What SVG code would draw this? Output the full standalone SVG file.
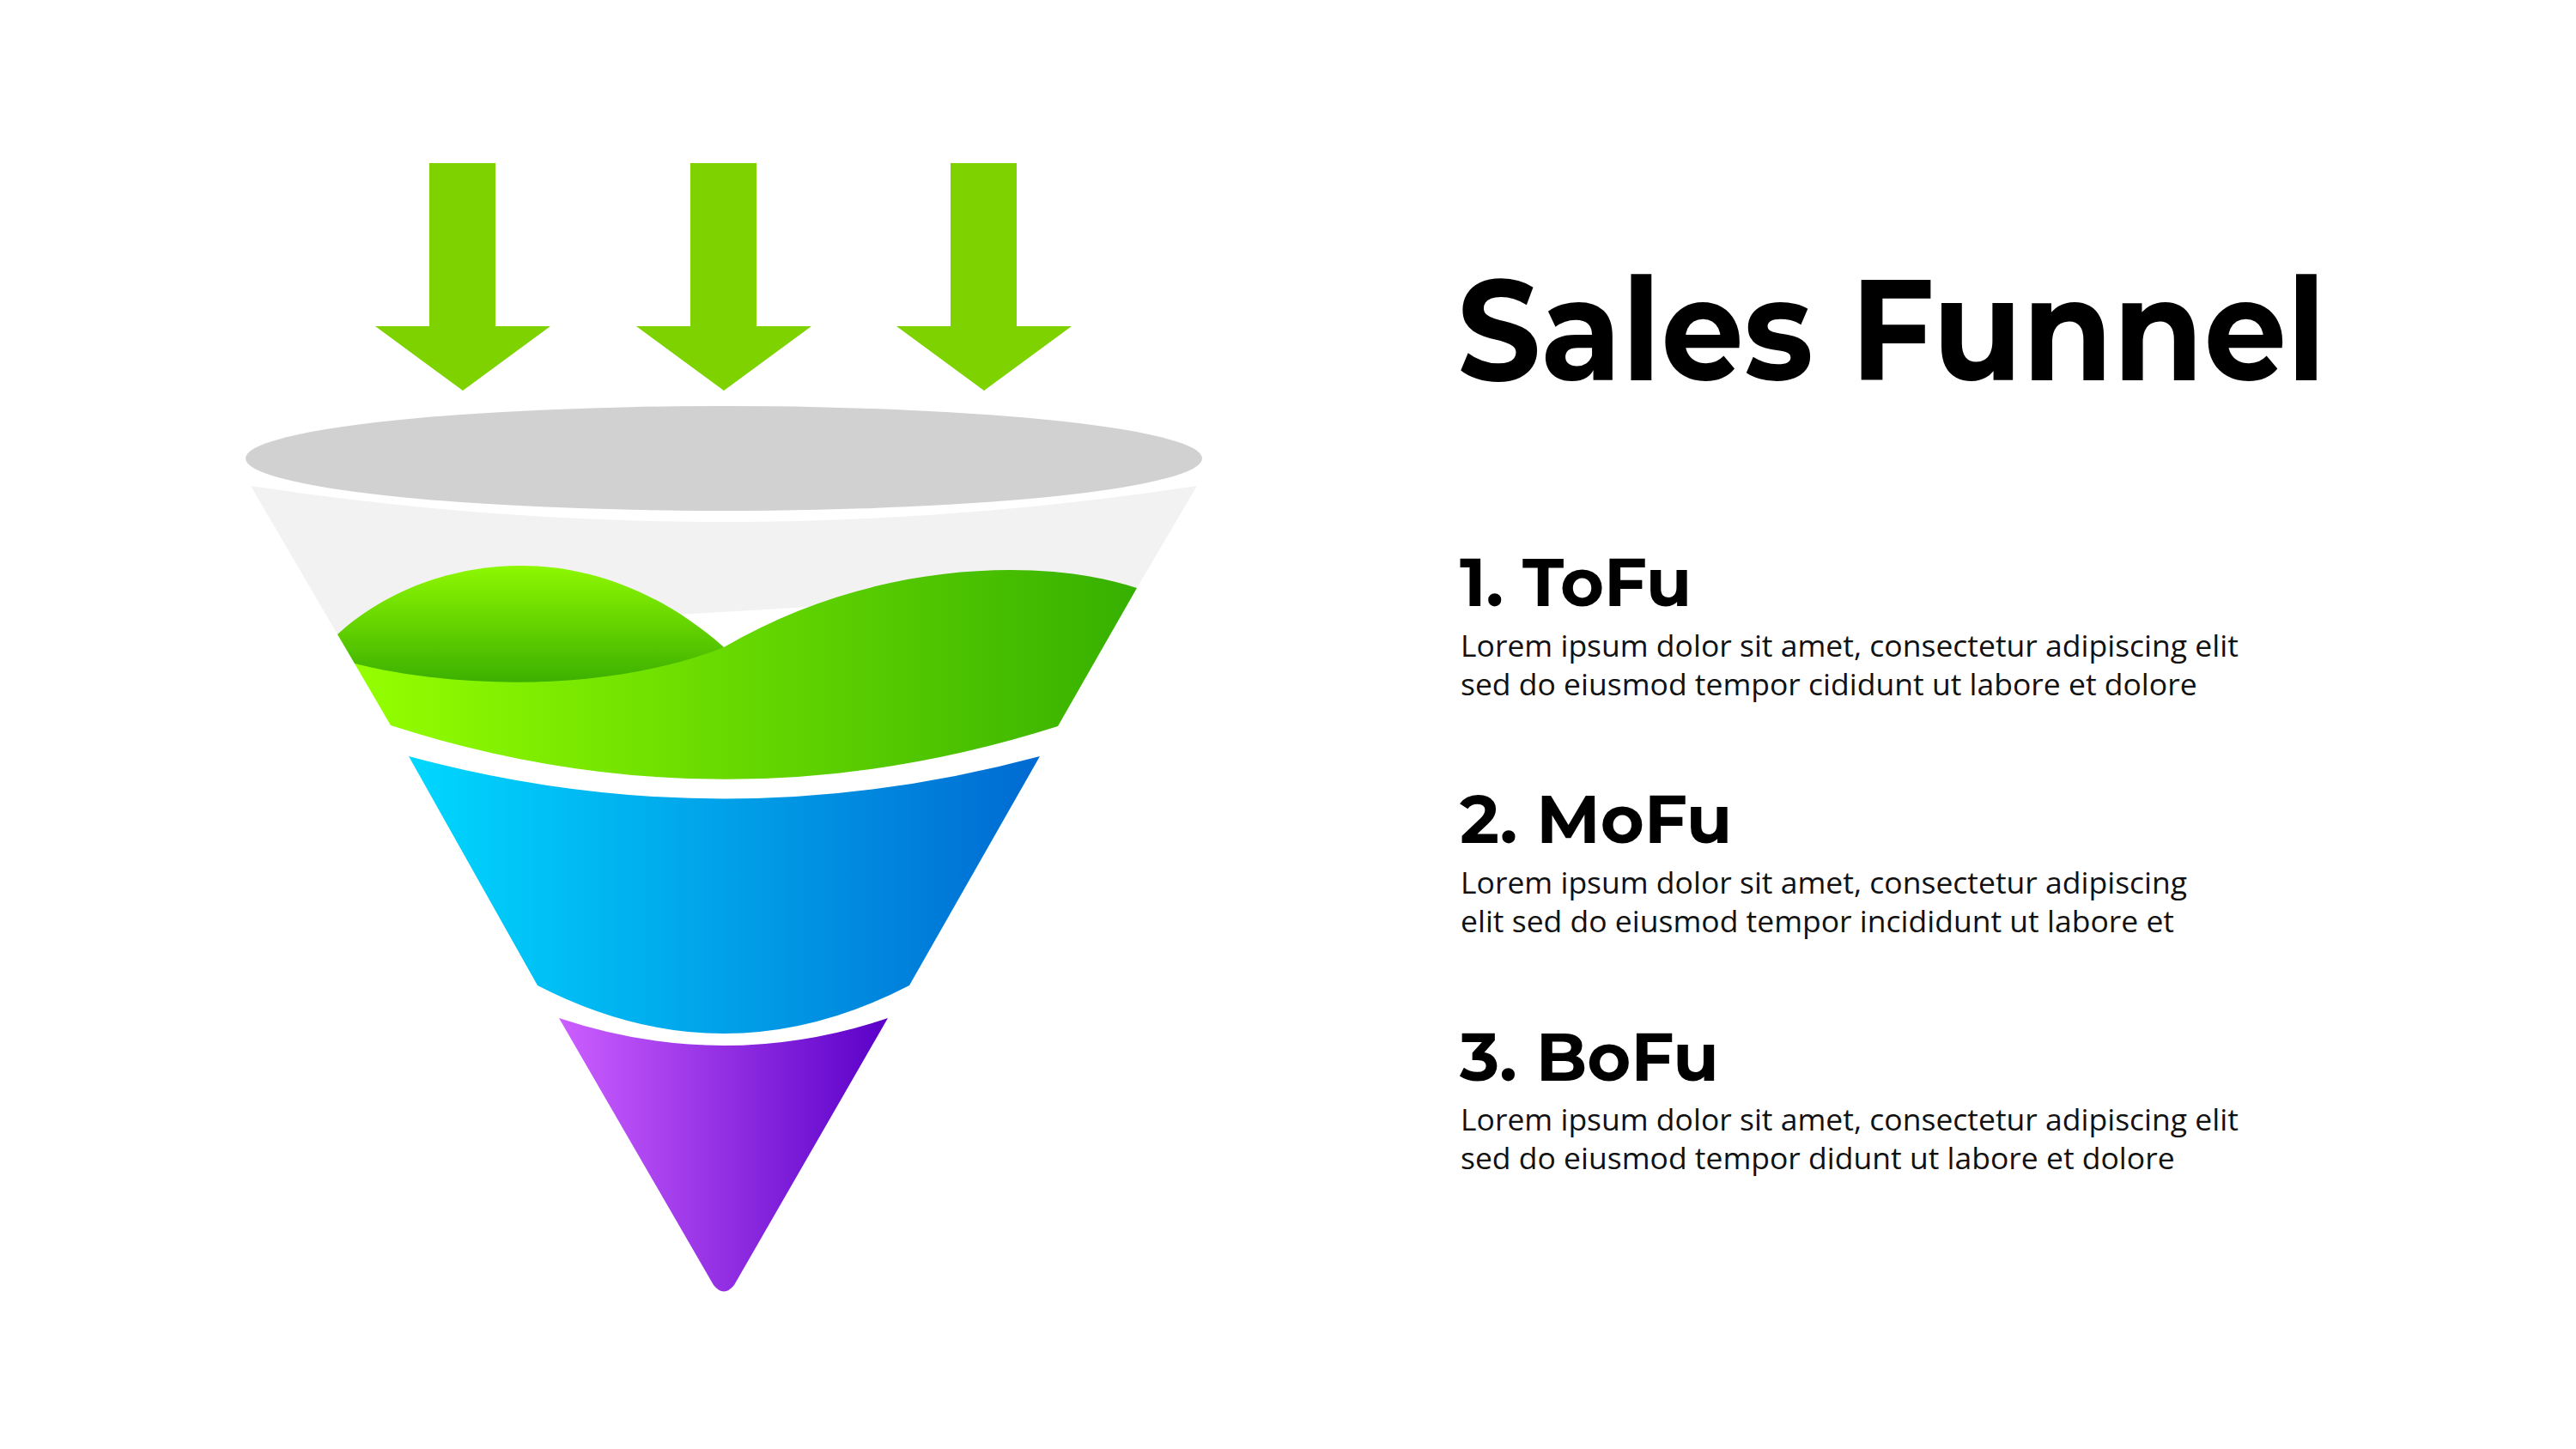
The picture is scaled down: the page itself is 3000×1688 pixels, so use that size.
<svg xmlns="http://www.w3.org/2000/svg" width="3000" height="1688" viewBox="0 0 3000 1688">
<defs>
<linearGradient id="gBand" x1="0" x2="1" y1="0" y2="0"><stop offset="0" stop-color="#95ff00"/><stop offset="1" stop-color="#36b000"/></linearGradient>
<linearGradient id="gBlob" x1="0" x2="0" y1="0" y2="1"><stop offset="0" stop-color="#8ef800"/><stop offset="1" stop-color="#3cb000"/></linearGradient>
<linearGradient id="gBlue" x1="0" x2="1" y1="0" y2="0"><stop offset="0" stop-color="#00d8ff"/><stop offset="1" stop-color="#006ad2"/></linearGradient>
<linearGradient id="gPurple" x1="0" x2="1" y1="0" y2="0"><stop offset="0" stop-color="#cc5fff"/><stop offset="1" stop-color="#5a00c8"/></linearGradient>
<style>
.arrow{fill:#7dd200}
.h{font-family:Montserrat,"Liberation Sans",Arial,sans-serif;font-weight:700;fill:#000}
.b{font-family:"Open Sans","Liberation Sans",sans-serif;font-size:35.5px;fill:#111}
</style>
</defs>
<g id="arrows">
<path class="arrow" d="M501 190h77v190h102l-141 75l-141-75h103z" transform="translate(0,0)" style="display:none"/>
<path class="arrow" d="M500 190h77v190h64l-102 75l-102-75h63z"/>
<path class="arrow" d="M804 190h77v190h64l-102 75l-102-75h63z"/>
<path class="arrow" d="M1107 190h77v190h64l-102 75l-102-75h63z"/>
</g>
<g id="funnel">
<ellipse cx="843" cy="534" rx="557" ry="61" fill="#d1d1d1"/>
<path d="M292 566Q843 650 1394 566L1324 685L393 739Z" fill="#f2f2f2"/>
<path d="M1324 685C1220 650 1020 650 843 754C700 730 600 790 413 773L455 845Q843 970 1232 846Z" fill="url(#gBand)"/>
<path d="M393 739C490 650 680 610 843 754C700 810 520 800 413 773Z" fill="url(#gBlob)"/>
<path d="M476 881Q843 980 1211 881L1059 1148Q843 1260 626 1148Z" fill="url(#gBlue)"/>
<path d="M651 1186Q843 1250 1034 1186L855 1497Q843 1512 831 1497Z" fill="url(#gPurple)"/>
</g>
<g id="text">
<text class="h" x="1697" y="443" font-size="166" textLength="1012" lengthAdjust="spacingAndGlyphs">Sales Funnel</text>
<text class="h" x="1700" y="706" font-size="78">1. ToFu</text>
<text class="b" x="1701" y="765">Lorem ipsum dolor sit amet, consectetur adipiscing elit</text>
<text class="b" x="1701" y="810">sed do eiusmod tempor cididunt ut labore et dolore</text>
<text class="h" x="1700" y="982" font-size="78">2. MoFu</text>
<text class="b" x="1701" y="1041">Lorem ipsum dolor sit amet, consectetur adipiscing</text>
<text class="b" x="1701" y="1086">elit sed do eiusmod tempor incididunt ut labore et</text>
<text class="h" x="1700" y="1259" font-size="78">3. BoFu</text>
<text class="b" x="1701" y="1317">Lorem ipsum dolor sit amet, consectetur adipiscing elit</text>
<text class="b" x="1701" y="1362">sed do eiusmod tempor didunt ut labore et dolore</text>
</g>
</svg>
